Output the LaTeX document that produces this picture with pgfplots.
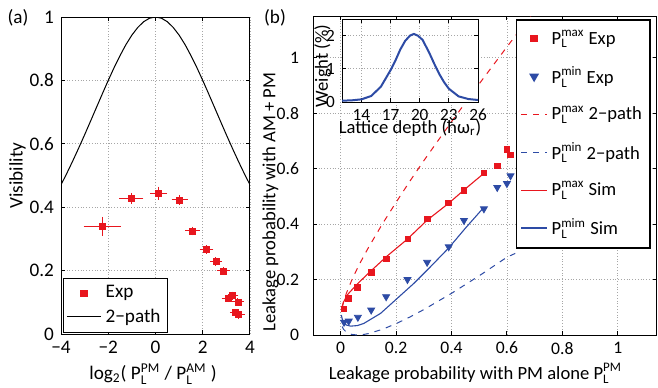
\documentclass[border=0pt]{standalone}
\usepackage{fontspec}
\setmainfont{Carlito}
\usepackage{amsmath}
\usepackage{pgfplots}
\pgfplotsset{compat=1.18}
\usepackage{pgfplotstable}
\definecolor{myred}{RGB}{232,22,30}
\definecolor{myblue}{RGB}{45,75,165}
\newcommand{\PL}[1]{P$^{\text{#1}}_{\text{L}}$}
\newcommand{\fa}{\fontsize{9.6}{11}\selectfont}
\newcommand{\fbt}{\fontsize{8.8}{10}\selectfont}
\newcommand{\fbl}{\fontsize{9.3}{11}\selectfont}
\newcommand{\fit}{\fontsize{8.6}{10}\selectfont}

\pgfplotstableread{
x y ex ey
-2.26 0.340 0.68 0.022
-1.02 0.428 0.41 0.010
0.14 0.444 0.25 0.013
1.02 0.423 0.24 0.008
1.57 0.325 0.21 0.006
2.16 0.267 0.19 0.006
2.56 0.228 0.16 0.006
2.87 0.199 0.17 0.005
3.07 0.113 0.17 0.005
3.26 0.121 0.15 0.005
3.49 0.101 0.15 0.005
3.39 0.067 0.14 0.005
3.53 0.061 0.14 0.005
}\visexp

\pgfplotstableread{
x y
-4 0.4706
-3.75 0.5075
-3.5 0.5463
-3.25 0.5868
-3 0.6285
-2.75 0.6713
-2.5 0.7146
-2.25 0.7577
-2 0.8
-1.75 0.8406
-1.5 0.8783
-1.25 0.9131
-1 0.9428
-0.75 0.9671
-0.5 0.9852
-0.25 0.9963
0 1
0.25 0.9963
0.5 0.9852
0.75 0.9671
1 0.9428
1.25 0.9131
1.5 0.8783
1.75 0.8406
2 0.8
2.25 0.7577
2.5 0.7146
2.75 0.6713
3 0.6285
3.25 0.5868
3.5 0.5463
3.75 0.5075
4 0.4706
}\vistwo

\pgfplotstableread{
x y
0.012 0.094
0.028 0.132
0.060 0.171
0.110 0.226
0.164 0.275
0.242 0.347
0.312 0.418
0.388 0.476
0.444 0.521
0.517 0.584
0.565 0.610
0.600 0.670
0.613 0.649
}\maxexp

\pgfplotstableread{
x y
0.012 0.046
0.029 0.050
0.062 0.064
0.110 0.090
0.164 0.138
0.241 0.200
0.312 0.262
0.390 0.318
0.445 0.413
0.517 0.455
0.565 0.532
0.600 0.546
0.613 0.574
}\minexp

\pgfplotstableread{
x y
0.005 0.0998
0.01 0.119
0.02 0.1493
0.04 0.198
0.06 0.240
0.08 0.2786
0.10 0.3149
0.15 0.3997
0.20 0.4785
0.25 0.555
0.30 0.6284
0.40 0.7691
0.50 0.9056
0.60 1.0386
0.70 1.169
}\maxtwo

\pgfplotstableread{
x y
0.005 0.0304
0.01 0.021
0.02 0.0107
0.04 0.002
0.06 0.0
0.08 0.0014
0.10 0.0051
0.15 0.0203
0.20 0.0409
0.25 0.065
0.30 0.0916
0.40 0.1502
0.50 0.2135
0.60 0.2805
0.63 0.2942
}\mintwo

\pgfplotstableread{
x y
0.002 0.090
0.010 0.118
0.024 0.145
0.060 0.184
0.108 0.230
0.168 0.285
0.240 0.345
0.312 0.414
0.390 0.475
0.450 0.527
0.516 0.582
}\maxsim

\pgfplotstableread{
x y
0.002 0.072
0.008 0.048
0.020 0.036
0.036 0.032
0.060 0.034
0.084 0.042
0.144 0.078
0.204 0.132
0.264 0.186
0.324 0.246
0.390 0.314
0.450 0.385
0.513 0.456
}\minsim

\pgfplotstableread{
x y
12 0.04
13 0.05
14 0.08
15 0.18
16 0.46
17 0.96
17.5 1.25
18 1.58
18.5 1.84
19 2.00
19.4 2.05
19.8 2.00
20.3 1.87
21 1.47
21.5 1.15
22 0.85
22.5 0.60
23 0.40
24 0.17
25 0.09
26 0.06
}\weight

\pgfplotsset{
  mystyle/.style={
    scale only axis,
    anchor=south west,
    /pgf/number format/assume math mode=true,
    grid=major,
    grid style={densely dotted, gray!70, line width=0.4pt},
    axis line style={line width=0.5pt},
    every tick/.style={black, line width=0.5pt},
    major tick length=2pt,
    tick align=inside,
  }
}

\begin{document}
\begin{tikzpicture}
\path[use as bounding box] (0,0) rectangle (329pt,193.5pt);

% ---------- panel (a)
\begin{axis}[mystyle,
  at={(30.5pt,26.5pt)}, width=94.5pt, height=158.5pt,
  xmin=-4, xmax=4, ymin=0, ymax=1,
  tick label style={font=\fa},
  xtick={-4,-2,0,2,4}, xticklabels={−4,−2,0,2,4},
  ytick={0,0.2,0.4,0.6,0.8,1}, yticklabels={0,0.2,0.4,0.6,0.8,1},
  xlabel={log$_{\text{2}}$( \PL{PM} / \PL{AM} )},
  ylabel={Visibility},
  every axis x label/.style={at={(axis description cs:0.487,-0.127)}, anchor=center, font=\fa},
  every axis y label/.style={at={(axis description cs:-0.23,0.5)}, rotate=90, anchor=center, font=\fa},
  legend style={at={(0.01,0.004)}, anchor=south west, draw=black, line width=0.6pt, fill=white, inner sep=1.5pt, font=\fa},
  legend cell align=left,
]
\addplot[only marks, mark=square*, mark size=1.5pt, color=myred,
  error bars/.cd, x dir=both, x explicit, y dir=both, y explicit,
  error bar style={line width=0.5pt, myred},
  error mark options={line width=0.5pt, myred, mark size=1.2pt}]
  table[x=x, y=y, x error=ex, y error=ey]{\visexp};
\addlegendentry{Exp}
\addplot[black, line width=0.5pt] table[x=x,y=y]{\vistwo};
\addlegendentry{2−path}
\end{axis}

% ---------- panel (b)
\begin{axis}[mystyle,
  at={(156.5pt,26pt)}, width=171.75pt, height=159.5pt,
  xmin=-0.1, xmax=1.14, ymin=0, ymax=1.15,
  tick label style={font=\fbt},
  xtick={0,0.2,0.4,0.6,0.8,1}, xticklabels={0,0.2,0.4,0.6,0.8,1},
  ytick={0,0.2,0.4,0.6,0.8,1}, yticklabels={0,0.2,0.4,0.6,0.8,1},
  yticklabel style={xshift=-3.5pt},
  xlabel={Leakage probability with PM alone \PL{PM}},
  ylabel={Leakage probability with AM + PM},
  every axis x label/.style={at={(axis description cs:0.473,-0.12)}, anchor=center, font=\fbl},
  every axis y label/.style={at={(axis description cs:-0.124,0.417)}, rotate=90, anchor=center, font=\fbl},
  legend style={at={(0.59,0.99)}, anchor=north west, draw=black, line width=0.9pt, fill=white, row sep=5.8pt, inner ysep=3pt, inner xsep=2pt, font=\fbl},
  legend cell align=left,
  legend image code/.code={\draw[mark repeat=2, mark phase=2] plot coordinates {(0pt,0pt) (6.5pt,0pt) (13pt,0pt)};},
]
\addplot[only marks, mark=square*, mark size=1.4pt, color=myred] table[x=x,y=y]{\maxexp};
\addlegendentry{\PL{max} Exp}
\addplot[only marks, mark=triangle*, mark options={rotate=180}, mark size=2pt, color=myblue] table[x=x,y=y]{\minexp};
\addlegendentry{\PL{min} Exp}
\addplot[myred, dashed, line width=0.5pt] table[x=x,y=y]{\maxtwo};
\addlegendentry{\PL{max} 2−path}
\addplot[myblue, dashed, line width=0.5pt] table[x=x,y=y]{\mintwo};
\addlegendentry{\PL{min} 2−path}
\addplot[myred, line width=0.55pt] table[x=x,y=y]{\maxsim};
\addlegendentry{\PL{max} Sim}
\addplot[myblue, line width=0.55pt] table[x=x,y=y]{\minsim};
\addlegendentry{\PL{mim} Sim}
\end{axis}

% ---------- inset
\begin{axis}[mystyle,
  at={(171pt,142.5pt)}, width=68pt, height=41.5pt,
  axis background/.style={fill=white},
  xmin=12, xmax=26, ymin=0, ymax=2.5,
  tick label style={font=\fit},
  xtick={14,17,20,23,26}, xticklabels={14,17,20,23,26},
  ytick={0,1,2}, yticklabels={0,1,2},
  xlabel={Lattice depth (ħω$_{\text{r}}$)},
  ylabel={Weight (\%)},
  every axis x label/.style={at={(axis description cs:0.5,-0.31)}, anchor=center, font=\fbl},
  every axis y label/.style={at={(axis description cs:-0.143,0.434)}, rotate=90, anchor=center, font=\fbl},
]
\addplot[myblue, line width=1pt] table[x=x,y=y]{\weight};
\end{axis}

\node[font=\fa] at (9pt,184.5pt) {(a)};
\node[font=\fa] at (137.5pt,184.5pt) {(b)};
\end{tikzpicture}
\end{document}
